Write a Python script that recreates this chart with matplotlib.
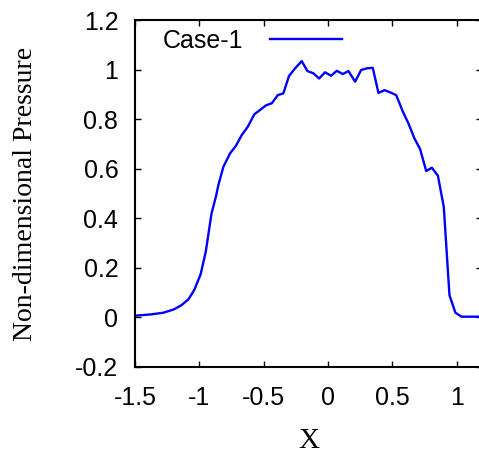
import numpy as np
import matplotlib
matplotlib.use('Agg')
import matplotlib.pyplot as plt

# 数据
x_vals = [-1.5, -1.38, -1.28, -1.20, -1.14, -1.085, -1.04, -0.99, -0.95, -0.905,
          -0.87, -0.852, -0.813, -0.761, -0.715, -0.670, -0.624, -0.572, -0.528, -0.481,
          -0.437, -0.390, -0.347, -0.303, -0.256, -0.204, -0.160, -0.114, -0.069, -0.023,
          0.024, 0.068, 0.115, 0.159, 0.211, 0.257, 0.302, 0.348, 0.392, 0.439,
          0.483, 0.530, 0.582, 0.625, 0.672, 0.716, 0.763, 0.807, 0.854, 0.900,
          0.944, 0.990, 1.038, 1.2]
p_vals = [0.007, 0.012, 0.019, 0.032, 0.049, 0.073, 0.110, 0.174, 0.265, 0.420,
          0.490, 0.534, 0.608, 0.662, 0.693, 0.736, 0.769, 0.820, 0.837, 0.856,
          0.864, 0.897, 0.904, 0.974, 1.005, 1.034, 0.994, 0.985, 0.964, 0.989,
          0.975, 0.995, 0.982, 0.994, 0.951, 0.998, 1.005, 1.007, 0.906, 0.917,
          0.908, 0.897, 0.830, 0.783, 0.722, 0.679, 0.591, 0.604, 0.572, 0.445,
          0.090, 0.019, 0.003, 0.003]
series_name = 'Case-1'
x_ticks = [-1.5, -1, -0.5, 0, 0.5, 1]
x_tick_labels = ['-1.5', '-1', '-0.5', '0', '0.5', '1']
y_ticks = [-0.2, 0, 0.2, 0.4, 0.6, 0.8, 1, 1.2]
y_tick_labels = ['-0.2', '0', '0.2', '0.4', '0.6', '0.8', '1', '1.2']

plt.rcParams['font.family'] = ['Liberation Sans', 'DejaVu Sans']

fig = plt.figure(figsize=(4.79, 4.53), dpi=100)
ax = fig.add_axes([135 / 479, 86 / 453, 347.4 / 479, 347 / 453])

ax.plot(x_vals, p_vals, color='#0000ff', lw=1.7, label=series_name)

ax.set_xlim(-1.5, 1.2)
ax.set_ylim(-0.2, 1.2)
ax.set_xticks(x_ticks)
ax.set_xticklabels(x_tick_labels)
ax.set_yticks(y_ticks)
ax.set_yticklabels(y_tick_labels)
ax.tick_params(direction='in', length=4, width=1, labelsize=18,
               top=True, right=True)
ax.tick_params(axis='x', pad=13.5)
ax.tick_params(axis='y', pad=12)

for sp in ax.spines.values():
    sp.set_linewidth(1.5)

ax.set_xlabel('X', family='Liberation Serif', fontsize=21, labelpad=13)
ax.set_ylabel('Non-dimensional Pressure', family='Liberation Serif', fontsize=20, labelpad=27)

ax.legend(loc='upper left', bbox_to_anchor=(0.066, 0.988), frameon=False,
          markerfirst=False, fontsize=18, handlelength=2.9, handletextpad=1.05,
          borderaxespad=0.0, borderpad=0.2)

fig.savefig('out.png', dpi=100)
